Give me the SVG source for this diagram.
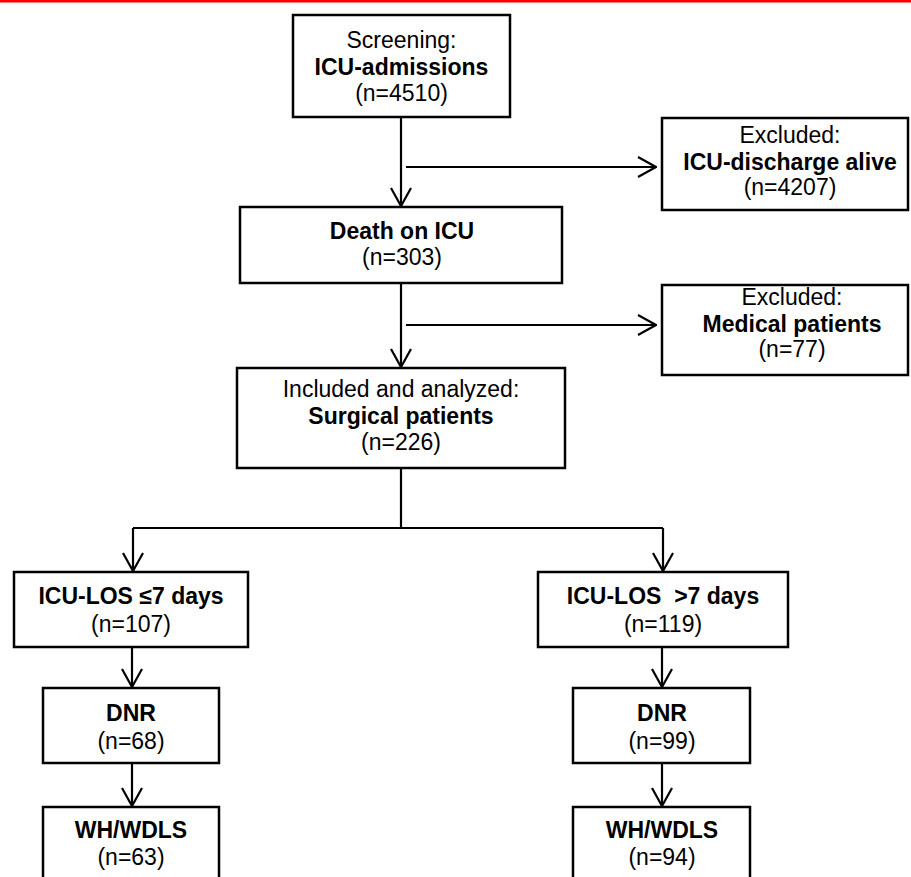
<svg xmlns="http://www.w3.org/2000/svg" width="911" height="877" viewBox="0 0 911 877">
<defs>
<style>
.box{fill:#fff;stroke:#000;stroke-width:2.5}
.t{font-family:"Liberation Sans",Arial,sans-serif;font-size:23px;fill:#000;text-anchor:middle}
.b{font-weight:bold}
.c{fill:none;stroke:#000;stroke-width:2.2}
</style>
<marker id="ah" viewBox="0 0 20 22" refX="19" refY="11" markerWidth="20" markerHeight="22" markerUnits="userSpaceOnUse" orient="auto">
<path d="M1,1 L19,11 L1,21" fill="none" stroke="#000" stroke-width="2.2"/>
</marker>
</defs>
<rect x="0" y="0" width="911" height="877" fill="#fff"/>
<rect x="0" y="0" width="911" height="2.5" fill="#f00"/>
<g id="connectors">
<path class="c" d="M401,117 V206" marker-end="url(#ah)"/>
<path class="c" d="M406,167 H656" marker-end="url(#ah)"/>
<path class="c" d="M401,283 V367" marker-end="url(#ah)"/>
<path class="c" d="M406,325 H656" marker-end="url(#ah)"/>
<path class="c" d="M401,468 V528 H133"/>
<path class="c" d="M401,528 H663"/>
<path class="c" d="M133,528 V571" marker-end="url(#ah)"/>
<path class="c" d="M663,528 V571" marker-end="url(#ah)"/>
<path class="c" d="M132,647 V687" marker-end="url(#ah)"/>
<path class="c" d="M662,647 V687" marker-end="url(#ah)"/>
<path class="c" d="M132,763 V806" marker-end="url(#ah)"/>
<path class="c" d="M662,763 V806" marker-end="url(#ah)"/>
</g>
<g id="screening">
<rect class="box" x="293" y="15" width="217" height="102"/>
<text class="t" x="401.5" y="48">Screening:</text>
<text class="t b" x="401.5" y="75">ICU-admissions</text>
<text class="t" x="401.5" y="101">(n=4510)</text>
</g>
<g id="excluded1">
<rect class="box" x="662" y="118" width="246" height="92"/>
<text class="t" x="790" y="143">Excluded:</text>
<text class="t b" x="790" y="170">ICU-discharge alive</text>
<text class="t" x="790" y="195">(n=4207)</text>
</g>
<g id="death">
<rect class="box" x="240" y="207" width="322" height="76"/>
<text class="t b" x="402" y="239">Death on ICU</text>
<text class="t" x="402" y="265">(n=303)</text>
</g>
<g id="excluded2">
<rect class="box" x="662" y="285" width="246" height="90"/>
<text class="t" x="792" y="305">Excluded:</text>
<text class="t b" x="792" y="332">Medical patients</text>
<text class="t" x="792" y="357">(n=77)</text>
</g>
<g id="included">
<rect class="box" x="237" y="368" width="328" height="100"/>
<text class="t" x="401" y="397">Included and analyzed:</text>
<text class="t b" x="401" y="424">Surgical patients</text>
<text class="t" x="401" y="450">(n=226)</text>
</g>
<g id="los-short">
<rect class="box" x="14" y="572" width="234" height="75"/>
<text class="t b" x="131" y="604">ICU-LOS ≤7 days</text>
<text class="t" x="131" y="632">(n=107)</text>
</g>
<g id="los-long">
<rect class="box" x="538" y="572" width="250" height="75"/>
<text class="t b" x="663" y="604" xml:space="preserve">ICU-LOS  &gt;7 days</text>
<text class="t" x="663" y="632">(n=119)</text>
</g>
<g id="dnr-short">
<rect class="box" x="43" y="688" width="176" height="75"/>
<text class="t b" x="131" y="721">DNR</text>
<text class="t" x="131" y="749">(n=68)</text>
</g>
<g id="dnr-long">
<rect class="box" x="573" y="688" width="177" height="75"/>
<text class="t b" x="662" y="721">DNR</text>
<text class="t" x="662" y="749">(n=99)</text>
</g>
<g id="wh-short">
<rect class="box" x="43" y="807" width="176" height="80"/>
<text class="t b" x="131" y="838">WH/WDLS</text>
<text class="t" x="131" y="865">(n=63)</text>
</g>
<g id="wh-long">
<rect class="box" x="573" y="807" width="177" height="80"/>
<text class="t b" x="662" y="838">WH/WDLS</text>
<text class="t" x="662" y="865">(n=94)</text>
</g>
</svg>
